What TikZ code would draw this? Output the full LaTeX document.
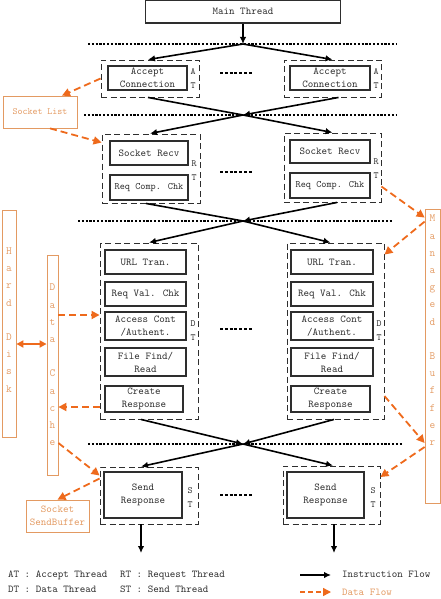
\documentclass[tikz,border=0pt]{standalone}
\usepackage{tikz}
\usetikzlibrary{arrows.meta,calc,positioning}
\definecolor{DataOrange}{HTML}{EE6A1C}
\definecolor{PaleOrange}{HTML}{E39A62}
\definecolor{InkGray}{HTML}{2E2E2E}

\begin{document}
\begin{tikzpicture}[x=1pt,y=-1pt,
    txt/.style={font=\ttfamily\fontsize{10.5}{13}\selectfont,text=InkGray,inner sep=0pt},
    thread/.style={draw=InkGray,line width=.9pt,dash pattern=on 6pt off 3.5pt,minimum width=98pt},
    task/.style={txt,draw=InkGray,line width=1.2pt,align=center,minimum width=79pt,minimum height=24pt},
    tag/.style={font=\ttfamily\fontsize{9.5}{14}\selectfont,text=InkGray,align=center,inner sep=0pt},
    store/.style={draw=PaleOrange,line width=.8pt,text=PaleOrange,align=center,inner sep=0pt,
                  font=\ttfamily\fontsize{10}{12}\selectfont},
    vtext/.style={text=PaleOrange,align=center,inner sep=0pt,font=\ttfamily\fontsize{11}{17.2}\selectfont},
    flow/.style={-{Latex[length=7pt,width=6.5pt]},line width=1.6pt},
    data/.style={-{Triangle[length=8pt,width=8pt]},DataOrange,line width=1.8pt,dash pattern=on 7pt off 4pt},
    sep/.style={line width=1.2pt,dash pattern=on 2.2pt off 1.6pt},
    more/.style={line width=1.3pt,dash pattern=on 3pt off 1.8pt}]
  \useasboundingbox (0,0) rectangle (441,599);

  \node[task,minimum width=195pt,minimum height=23pt] (main) at (243,11.5) {Main Thread};

  % separators and crossing points
  \coordinate (c1) at (243,44);
  \coordinate (c2) at (243,115);
  \coordinate (c3) at (243,221);
  \coordinate (c4) at (243,444);
  \draw[sep] (88,44) -- (397,44);
  \draw[sep] (84,115) -- (397,115);
  \draw[sep] (78,221) -- (393,221);
  \draw[sep] (88,444) -- (403,444);

  % accept threads
  \node[thread,minimum height=37pt] (at1) at (150,78.5) {};
  \node[task] (ac1) at (147.5,78) {Accept\\Connection};
  \node[tag] (at1t) at (193,78.5) {A\\T};
  \node[thread,minimum width=97pt,minimum height=37pt] (at2) at (332.5,78.5) {};
  \node[task,minimum width=80pt] (ac2) at (330,78) {Accept\\Connection};
  \node[tag] (at2t) at (376,78.5) {A\\T};
  \draw[more] (220,73) -- (253,73);

  % request threads
  \node[thread,minimum height=69pt] (rt1) at (151,168.5) {};
  \node[task,minimum width=78pt] (sr1) at (149,153) {Socket Recv};
  \node[task,minimum width=78pt,minimum height=25pt,font=\ttfamily\fontsize{9.8}{12}\selectfont] (rc1) at (149,187.5) {Req Comp. Chk};
  \node[tag] (rt1t) at (194,170.5) {R\\T};
  \node[thread,minimum width=97pt,minimum height=69pt] (rt2) at (332.5,167.5) {};
  \node[task,minimum width=80pt,minimum height=23pt] (sr2) at (330,151.5) {Socket Recv};
  \node[task,minimum width=80pt,minimum height=25pt,font=\ttfamily\fontsize{9.8}{12}\selectfont] (rc2) at (330,185.5) {Req Comp. Chk};
  \node[tag] (rt2t) at (376,169) {R\\T};
  \draw[more] (220,172) -- (253,172);

  % data threads
  \node[thread,minimum height=176pt] (dt1) at (149,331) {};
  \node[task,minimum width=81pt] (ut1) at (145.5,262) {URL Tran.};
  \node[task,minimum width=81pt] (rv1) at (145.5,294) {Req Val. Chk};
  \node[task,minimum width=81pt,minimum height=28pt] (ac1x) at (145.5,326) {Access Cont\\/Authent.};
  \node[task,minimum width=81pt,minimum height=28pt] (ff1) at (145.5,362) {File Find/\\Read};
  \node[task,minimum width=78pt,minimum height=26pt] (cr1) at (144,399) {Create\\Response};
  \node[tag] (dt1t) at (193,330.5) {D\\T};
  \node[thread,minimum width=97pt,minimum height=176pt] (dt2) at (335.5,331) {};
  \node[task,minimum width=82pt] (ut2) at (332,262) {URL Tran.};
  \node[task,minimum width=82pt] (rv2) at (332,294) {Req Val. Chk};
  \node[task,minimum width=82pt,minimum height=28pt] (ac2x) at (332,326) {Access Cont\\/Authent.};
  \node[task,minimum width=82pt,minimum height=28pt] (ff2) at (332,362) {File Find/\\Read};
  \node[task,minimum width=79pt,minimum height=26pt] (cr2) at (330.5,399) {Create\\Response};
  \node[tag] (dt2t) at (379,330.5) {D\\T};
  \draw[more] (220,329) -- (253,329);

  % send threads
  \node[thread,minimum height=57pt] (st1) at (149,495.5) {};
  \node[task,minimum width=78pt,minimum height=46pt] (sd1) at (143,495) {Send\\Response};
  \node[tag] (st1t) at (190,497.5) {S\\T};
  \node[thread,minimum width=97pt,minimum height=58pt] (st2) at (331.5,495) {};
  \node[task,minimum width=77pt,minimum height=46pt] (sd2) at (325.5,495) {Send\\Response};
  \node[tag] (st2t) at (373,497.5) {S\\T};
  \draw[more] (220,495) -- (253,495);
  \coordinate (out1) at (141,553);
  \coordinate (out2) at (334,553);

  % instruction flow
  \draw[flow] (main) -- (c1);
  \draw[flow] (c1) -- ([xshift=-2pt]at1.north);
  \draw[flow] (c1) -- (at2.north);
  \draw[line width=1.6pt] ([xshift=-2pt]at1.south) -- (c2);
  \draw[flow] ([xshift=6pt]at2.south) -- (c2);
  \draw[flow] (c2) -- ([xshift=-1pt]rt1.north);
  \draw[flow] (c2) -- (rt2.north);
  \draw[line width=1.6pt] ([xshift=-5pt]rt1.south) -- (c3);
  \draw[flow] ([xshift=4.5pt]rt2.south) -- (c3);
  \draw[flow] (c3) -- (dt1.north);
  \draw[flow] (c3) -- ([xshift=-5pt]dt2.north);
  \draw[flow] ([xshift=-8pt]dt1.south) -- (c4);
  \draw[flow] ([xshift=-1.5pt]dt2.south) -- (c4);
  \draw[flow] (c4) -- ([xshift=-8pt]st1.north);
  \draw[flow] (c4) -- ([xshift=1.5pt]st2.north);
  \draw[flow] ([xshift=-8pt]st1.south) -- (out1);
  \draw[flow] ([xshift=2.5pt]st2.south) -- (out2);

  % stores
  \node[store,minimum width=74pt,minimum height=32pt,font=\ttfamily\fontsize{9.5}{12}\selectfont] (sl) at (40,112) {Socket List};
  \node[store,minimum width=14pt,minimum height=227pt] (hd) at (9,323.5) {};
  \node[vtext] (hdt) at (9,320) {H\\a\\r\\d\\[17.2pt]D\\i\\s\\k};
  \node[store,minimum width=11pt,minimum height=220pt] (dc) at (52.5,365) {};
  \node[vtext] (dct) at (52.5,365) {D\\a\\t\\a\\[17.2pt]C\\a\\c\\h\\e};
  \node[store,minimum width=15pt,minimum height=294pt] (mb) at (432.5,356) {};
  \node[vtext,anchor=north] (mbt) at (432.5,215) {M\\a\\n\\a\\g\\e\\d\\[17.2pt]B\\u\\f\\f\\e\\r};
  \node[store,minimum width=63pt,minimum height=32pt,font=\ttfamily\fontsize{10.5}{13}\selectfont] (ssb) at (57.5,516) {Socket\\SendBuffer};

  % data flow
  \draw[data] (at1.west) -- ([xshift=22pt]sl.north);
  \draw[data] ([xshift=10pt]sl.south) -- ([yshift=-9pt]rt1.north west);
  \draw[data] ([yshift=-19pt]rt2.east) -- ([yshift=-9pt]mb.north west);
  \draw[data] ([yshift=-13pt]mb.north west) -- ([yshift=-12pt]dt2.north east);
  \draw[data] ($(dc.east|-dt1.west)+(0,-16)$) -- ([yshift=16pt]dt1.west);
  \draw[data] ([yshift=-76pt]dt1.west) -- ($(dc.east|-dt1.west)+(0,76)$);
  \draw[data,solid,{Triangle[length=7pt,width=7pt]}-{Triangle[length=7pt,width=7pt]}] ($(hd.east)+(0,20.5)$) -- ($(dc.west|-hd.east)+(0,20.5)$);
  \draw[data] ([yshift=-65pt]dt2.east) -- ($(mb.west)+(0,87)$);
  \draw[data] ($(mb.west)+(0,91)$) -- ([yshift=18pt]st2.east);
  \draw[data] ($(dc.east)+(0,78)$) -- ([yshift=20pt]st1.west);
  \draw[data] ([yshift=17pt]st1.west) -- (ssb.north);

  % legend
  \node[txt,anchor=west] (kat) at (8,575) {AT : Accept Thread};
  \node[txt,anchor=west] (krt) at (120,575) {RT : Request Thread};
  \node[txt,anchor=west] (kdt) at (8,589) {DT : Data Thread};
  \node[txt,anchor=west] (kst) at (120,589) {ST : Send Thread};
  \coordinate (ia) at (300,575);
  \coordinate (ib) at (331,575);
  \draw[flow] (ia) -- (ib);
  \node[txt,anchor=west] (kif) at (342,574) {Instruction Flow};
  \coordinate (da) at (300,592);
  \coordinate (db) at (331,592);
  \draw[data,line width=1.4pt,dash pattern=on 5pt off 3pt] (da) -- (db);
  \node[txt,anchor=west,text=PaleOrange] (kdf) at (342,592) {Data Flow};
\end{tikzpicture}
\end{document}
